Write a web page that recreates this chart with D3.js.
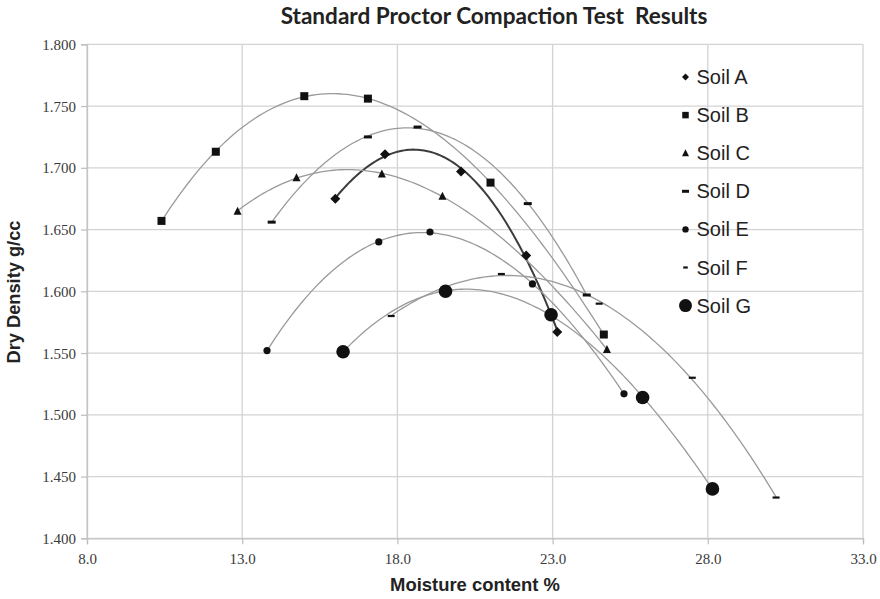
<!DOCTYPE html>
<html><head><meta charset="utf-8">
<script src="https://cdn.jsdelivr.net/npm/d3@7"></script>
<style>html,body{margin:0;padding:0;background:#fff;}svg{display:block;}</style>
</head><body>
<svg id="chart" width="880" height="599"></svg>
<script>
// ---- data ----
const seriesNames = ["Soil A","Soil B","Soil C","Soil D","Soil E","Soil F","Soil G"];
const soilA_x = [16.0, 17.6, 20.05, 22.15, 23.15];
const soilA_y = [1.675, 1.711, 1.697, 1.629, 1.567];
const soilB_x = [10.4, 12.15, 15.0, 17.05, 21.0, 24.65];
const soilB_y = [1.657, 1.713, 1.758, 1.756, 1.688, 1.565];
const soilC_x = [12.85, 14.75, 17.5, 19.45, 24.75];
const soilC_y = [1.665, 1.692, 1.695, 1.677, 1.553];
const soilD_x = [13.95, 17.05, 18.65, 22.2, 24.1];
const soilD_y = [1.656, 1.725, 1.733, 1.671, 1.597];
const soilE_x = [13.8, 17.4, 19.05, 22.35, 25.3];
const soilE_y = [1.552, 1.640, 1.648, 1.606, 1.517];
const soilF_x = [17.8, 21.35, 24.5, 27.5, 30.2];
const soilF_y = [1.580, 1.614, 1.590, 1.530, 1.433];
const soilG_x = [16.25, 19.55, 22.95, 25.9, 28.15];
const soilG_y = [1.551, 1.600, 1.581, 1.514, 1.440];
const xTicks = [8, 13, 18, 23, 28, 33];
const yTicks = [1.40, 1.45, 1.50, 1.55, 1.60, 1.65, 1.70, 1.75, 1.80];
const titleText = "Standard Proctor Compaction Test\u00a0\u00a0Results";
const xTitle = "Moisture content %";
const yTitle = "Dry Density g/cc";

const xs = [soilA_x, soilB_x, soilC_x, soilD_x, soilE_x, soilF_x, soilG_x];
const ys = [soilA_y, soilB_y, soilC_y, soilD_y, soilE_y, soilF_y, soilG_y];
const series = seriesNames.map((n, i) => ({name: n, pts: xs[i].map((x, j) => ({x, y: ys[i][j]}))}));

// ---- styles ----
const markerDef = [
  {type: "diamond", size: 10, legend: 7},
  {type: "square", size: 8, legend: 6.5},
  {type: "triangle", size: 8, legend: 7},
  {type: "dash", w: 8, h: 3, lw: 7, lh: 3},
  {type: "circle", r: 3.6, lr: 3.2},
  {type: "dash", w: 7, h: 2.2, lw: 4.5, lh: 2.2},
  {type: "circle", r: 6.8, lr: 6.5}
];

const svg = d3.select("#chart");
const x = d3.scaleLinear().domain([8, 33]).range([87, 863]);
const y = d3.scaleLinear().domain([1.4, 1.8]).range([538.3, 44.3]);

// grid
const grid = svg.append("g");
grid.selectAll("line.h").data(yTicks).join("line")
  .attr("x1", x(8)).attr("x2", x(33)).attr("y1", d => y(d)).attr("y2", d => y(d))
  .attr("stroke", "#d3d3d3").attr("stroke-width", 1.3);
grid.selectAll("line.v").data(xTicks).join("line")
  .attr("y1", y(1.4)).attr("y2", y(1.8)).attr("x1", d => x(d)).attr("x2", d => x(d))
  .attr("stroke", "#d3d3d3").attr("stroke-width", 1.3);

// axes
const xAxis = svg.append("g").attr("transform", `translate(0,${y(1.4)})`)
  .call(d3.axisBottom(x).tickValues(xTicks).tickFormat(d3.format(".1f")).tickSize(6).tickPadding(5));
const yAxis = svg.append("g").attr("transform", `translate(${x(8)},0)`)
  .call(d3.axisLeft(y).tickValues(yTicks).tickFormat(d3.format(".3f")).tickSize(6).tickPadding(5));
[xAxis, yAxis].forEach(a => {
  a.select(".domain").attr("stroke", "#c4c4c4").attr("stroke-width", 1.3);
  a.selectAll(".tick line").attr("stroke", "#bdbdbd").attr("stroke-width", 1.2);
  a.selectAll(".tick text").attr("font-family", "'Liberation Serif','DejaVu Serif',serif")
    .attr("font-size", 15).attr("fill", "#3a3a3a");
});
xAxis.selectAll(".tick text").attr("dy", "0.95em");
yAxis.selectAll(".tick text").attr("dy", "0.34em");

// polynomial (cubic) least-squares trendline
function polyfit(pts, deg) {
  const mx = d3.mean(pts, p => p.x);
  const n = deg + 1;
  const A = Array.from({length: n}, () => new Array(n).fill(0));
  const b = new Array(n).fill(0);
  pts.forEach(p => {
    const u = p.x - mx;
    for (let i = 0; i < n; i++) {
      for (let j = 0; j < n; j++) A[i][j] += Math.pow(u, i + j);
      b[i] += Math.pow(u, i) * p.y;
    }
  });
  // gaussian elimination
  for (let c = 0; c < n; c++) {
    let piv = c;
    for (let r = c + 1; r < n; r++) if (Math.abs(A[r][c]) > Math.abs(A[piv][c])) piv = r;
    [A[c], A[piv]] = [A[piv], A[c]]; [b[c], b[piv]] = [b[piv], b[c]];
    for (let r = c + 1; r < n; r++) {
      const f = A[r][c] / A[c][c];
      for (let k = c; k < n; k++) A[r][k] -= f * A[c][k];
      b[r] -= f * b[c];
    }
  }
  const coef = new Array(n).fill(0);
  for (let r = n - 1; r >= 0; r--) {
    let s = b[r];
    for (let k = r + 1; k < n; k++) s -= A[r][k] * coef[k];
    coef[r] = s / A[r][r];
  }
  return xv => coef.reduce((acc, c, i) => acc + c * Math.pow(xv - mx, i), 0);
}

const line = d3.line().x(d => x(d.x)).y(d => y(d.y)).curve(d3.curveLinear);
const lines = svg.append("g");
series.forEach((s, i) => {
  const f = polyfit(s.pts, 3);
  const [x0, x1] = d3.extent(s.pts, p => p.x);
  const samples = d3.range(0, 101).map(k => { const xv = x0 + (x1 - x0) * k / 100; return {x: xv, y: f(xv)}; });
  lines.append("path").datum(samples).attr("d", line).attr("fill", "none")
    .attr("stroke", i === 0 ? "#3c3c3c" : "#9a9a9a").attr("stroke-width", i === 0 ? 2 : 1.3);
});

function drawMarker(g, m, cx, cy, legend) {
  const col = "#111";
  if (m.type === "diamond") {
    const s = (legend ? m.legend : m.size) / 2;
    g.append("path").attr("d", `M${cx},${cy - s}L${cx + s},${cy}L${cx},${cy + s}L${cx - s},${cy}Z`).attr("fill", col);
  } else if (m.type === "square") {
    const s = legend ? m.legend : m.size;
    g.append("rect").attr("x", cx - s / 2).attr("y", cy - s / 2).attr("width", s).attr("height", s).attr("fill", col);
  } else if (m.type === "triangle") {
    const s = legend ? m.legend : m.size;
    g.append("path").attr("d", `M${cx},${cy - s * 0.55}L${cx + s / 2},${cy + s * 0.45}L${cx - s / 2},${cy + s * 0.45}Z`).attr("fill", col);
  } else if (m.type === "dash") {
    const w = legend ? m.lw : m.w, h = legend ? m.lh : m.h;
    g.append("rect").attr("x", cx - w / 2).attr("y", cy - h / 2).attr("width", w).attr("height", h).attr("fill", col);
  } else if (m.type === "circle") {
    g.append("circle").attr("cx", cx).attr("cy", cy).attr("r", legend ? m.lr : m.r).attr("fill", col);
  }
}

const marks = svg.append("g");
series.forEach((s, i) => {
  s.pts.forEach(p => drawMarker(marks, markerDef[i], x(p.x), y(p.y), false));
});

// legend
const lg = svg.append("g");
seriesNames.forEach((n, i) => {
  const cy = 77 + i * 38.1;
  drawMarker(lg, markerDef[i], 685.5, cy, true);
  lg.append("text").attr("x", 696.5).attr("y", cy + 7).text(n)
    .attr("font-family", "'Liberation Sans',Arial,sans-serif").attr("font-size", 20).attr("fill", "#222");
});

// titles
function fitText(t, width) {
  const w = t.node().getComputedTextLength();
  const fs = parseFloat(t.attr("font-size"));
  t.attr("font-size", fs * width / w);
}
const tt = svg.append("text").attr("x", 494).attr("y", 24).attr("text-anchor", "middle")
  .attr("font-family", "Lato,'Open Sans',sans-serif").attr("font-weight", "bold").attr("font-size", 20)
  .attr("fill", "#222").text(titleText);
fitText(tt, 427);
const xt = svg.append("text").attr("x", 475).attr("y", 591).attr("text-anchor", "middle")
  .attr("font-family", "'Liberation Sans',Arial,sans-serif").attr("font-weight", "bold").attr("font-size", 18)
  .attr("fill", "#222").text(xTitle);
fitText(xt, 170);
const yt = svg.append("text").attr("transform", "translate(19.5,292) rotate(-90)").attr("text-anchor", "middle")
  .attr("font-family", "'Liberation Sans',Arial,sans-serif").attr("font-weight", "bold").attr("font-size", 18)
  .attr("fill", "#222").text(yTitle);
fitText(yt, 143);
</script>
</body></html>
